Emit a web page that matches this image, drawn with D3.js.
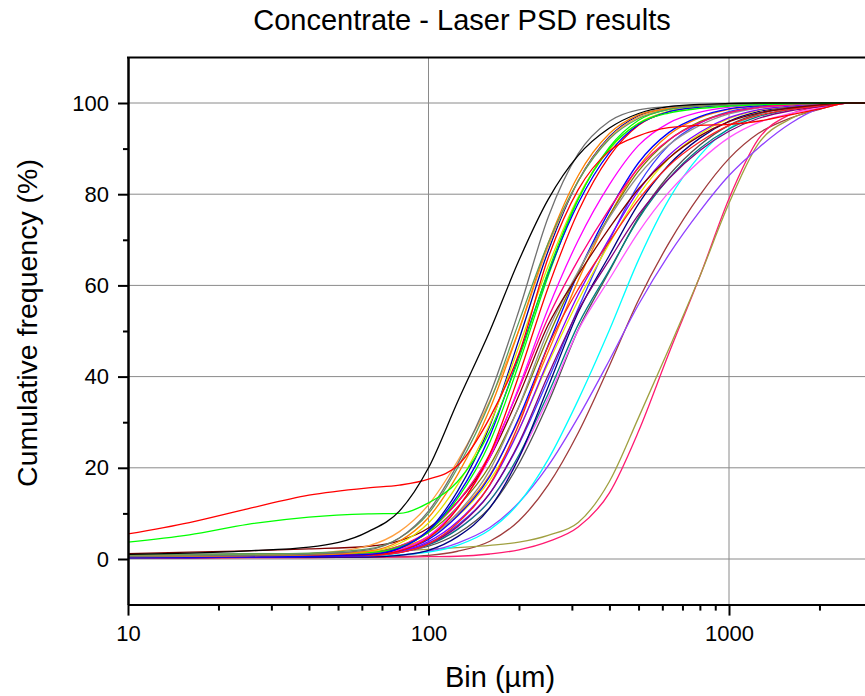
<!DOCTYPE html>
<html>
<head>
<meta charset="utf-8">
<script src="https://cdn.jsdelivr.net/npm/d3@7"></script>
<style>
  html, body { margin: 0; padding: 0; background: #fff; }
  svg { display: block; }
  text { font-family: "Liberation Sans", Arial, sans-serif; fill: #000; }
</style>
</head>
<body>
<svg id="chart" width="865" height="696"></svg>
<script>
// ---------------- DATA ----------------
const title = "Concentrate - Laser PSD results";
const xLabel = "Bin (µm)";
const yLabel = "Cumulative frequency (%)";

// size bins (µm)
const bins = [10, 16, 25, 40, 63, 80, 100, 125, 160, 200, 250, 315, 400, 500, 630, 800, 1000, 1250, 1600, 2000, 2500, 3150];

const xMajorTicks = [10, 100, 1000];
const xMinorTicks = [20, 30, 40, 50, 60, 70, 80, 90, 200, 300, 400, 500, 600, 700, 800, 900, 2000, 3000];
const yMajorTicks = [0, 20, 40, 60, 80, 100];
const yMinorTicks = [10, 30, 50, 70, 90];

// cumulative passing (%) per sample
const sBlack      = [1.0,1.3,1.8,2.6,6.0,10.5,20.0,34.5,50.0,65.5,78.8,88.5,94.5,97.7,99.2,99.7,99.9,100,100,100,100,100];
const sRedFoot    = [5.5,8.0,11.0,14.0,15.6,16.2,17.5,20.5,31.0,45.0,66.0,81.0,89.5,92.8,94.6,95.1,95.3,96.0,97.4,98.7,100,100];
const sGreenFoot  = [3.7,5.3,7.6,9.2,9.9,10.0,12.3,17.0,28.0,44.0,63.0,79.0,90.0,95.5,97.8,98.8,99.3,99.6,99.8,99.9,100,100];
const sGray1      = [0.6,0.7,0.8,1.0,2.0,4.6,10.5,20.8,36.0,54.5,74.9,88.9,96.0,98.5,99.2,99.6,99.8,99.9,100,100,100,100];
const sDkGreen    = [0.9,1.0,1.1,1.3,2.2,4.6,10.0,20.0,34.4,52.0,69.2,82.9,92.1,96.6,98.6,99.3,99.6,99.8,99.9,100,100,100];
const sOrange1    = [0.5,0.6,0.7,0.9,1.7,3.9,9.1,18.5,32.9,50.2,69.2,84.1,93.3,97.4,98.8,99.4,99.7,99.9,100,100,100,100];
const sRoyal      = [0.3,0.4,0.5,0.6,0.9,2.3,6.3,14.9,29.2,48.1,67.5,82.9,92.6,97.2,98.8,99.4,99.7,99.9,100,100,100,100];
const sYellow1    = [0.7,0.8,0.9,1.0,1.6,3.4,7.9,16.3,29.6,46.6,64.2,79.4,89.8,95.6,98.2,99.2,99.6,99.8,99.9,100,100,100];
const sBlue1      = [0.4,0.4,0.5,0.6,1.0,2.4,6.2,13.9,27.0,44.6,62.6,78.0,89.1,95.3,98.1,99.1,99.6,99.8,99.9,100,100,100];
const sLtOrange   = [0.5,0.6,0.8,1.2,2.9,6.0,11.9,21.5,34.7,50.2,68.5,82.9,92.4,96.9,98.7,99.4,99.7,99.9,100,100,100,100];
const sGreen1     = [0.8,0.9,1.0,1.1,1.4,2.6,6.0,13.3,25.6,42.8,62.0,78.9,90.3,96.2,98.6,99.3,99.6,99.8,99.9,100,100,100];
const sRed1       = [0.6,0.6,0.7,0.8,0.9,1.8,4.6,11.1,23.0,40.3,59.5,76.2,88.3,95.1,98.1,99.1,99.6,99.8,99.9,100,100,100];
const sMagenta1   = [0.4,0.4,0.5,0.6,0.9,2.0,5.0,11.3,22.3,37.7,54.9,69.9,82.1,90.7,95.6,98.0,99.1,99.6,99.9,100,100,100];
const sPink1      = [0.5,0.5,0.6,0.8,1.3,2.8,6.2,12.5,23.0,37.3,52.9,65.6,76.8,85.8,91.9,95.7,97.9,99.0,99.6,99.9,100,100];
const sWine       = [1.2,1.5,1.8,2.2,2.8,4.0,6.8,12.5,22.3,35.9,51.3,62.3,72.6,81.2,87.9,92.8,95.9,97.8,98.9,99.6,100,100];
const sGray2      = [0.6,0.6,0.7,0.8,1.0,2.0,4.6,10.1,19.5,33.5,50.1,63.1,74.9,84.1,90.8,95.1,97.6,98.9,99.6,99.9,100,100];
const sOlive1     = [0.8,0.9,1.0,1.1,1.5,2.8,5.8,11.4,20.5,33.4,48.7,62.8,75.3,85.1,91.8,95.9,97.9,99.0,99.6,99.9,100,100];
const sRed2       = [0.5,0.5,0.6,0.7,0.8,1.4,3.3,7.9,16.3,29.6,46.6,59.2,69.6,78.8,86.2,91.5,95.1,97.3,98.6,99.4,100,100];
const sBlue2      = [0.3,0.3,0.4,0.5,0.8,1.8,4.3,9.5,18.1,31.0,46.8,62.7,76.4,86.9,93.5,97.0,98.7,99.4,99.8,99.9,100,100];
const sOrange2    = [0.7,0.8,0.9,1.0,1.3,2.4,5.0,9.9,18.4,30.6,45.4,61.1,75.3,86.0,93.0,96.8,98.6,99.4,99.8,99.9,100,100];
const sViolet1    = [0.4,0.4,0.5,0.6,0.8,1.6,3.8,8.2,16.2,28.3,43.4,58.0,70.3,80.8,88.5,93.6,96.8,98.5,99.3,99.8,100,100];
const sYellow2    = [0.6,0.6,0.7,0.9,1.2,2.3,4.8,9.4,17.3,28.5,42.8,56.7,69.2,79.8,87.8,93.2,96.6,98.4,99.3,99.8,100,100];
const sPurple     = [0.5,0.5,0.6,0.7,0.8,1.4,3.3,7.1,14.4,25.5,40.3,54.5,65.6,75.5,83.4,89.6,93.8,96.6,98.3,99.2,100,100];
const sNavy       = [0.3,0.3,0.4,0.4,0.4,0.8,1.9,4.9,11.2,22.2,37.7,54.1,66.6,77.9,86.4,92.3,96.0,98.1,99.2,99.7,100,100];
const sBlue3      = [0.5,0.5,0.6,0.7,0.9,1.6,3.5,7.4,14.4,25.2,39.3,55.0,69.9,82.1,90.7,95.6,98.1,99.2,99.7,99.9,100,100];
const sDkCyan     = [0.6,0.6,0.7,0.8,0.9,1.5,3.1,6.5,12.8,22.8,36.2,51.4,63.4,74.6,83.4,90.0,94.3,97.0,98.6,99.5,100,100];
const sLtMagenta  = [0.4,0.4,0.5,0.6,0.8,1.4,3.1,6.6,12.8,22.3,35.2,50.2,61.4,71.7,80.4,87.3,92.4,95.7,97.7,98.9,100,100];
const sDkGray     = [0.9,1.0,1.1,1.2,1.3,1.6,2.8,5.6,11.3,20.9,34.2,50.3,63.1,74.9,84.1,90.8,95.1,97.6,98.9,99.6,100,100];
const sCyan       = [0.3,0.4,0.5,0.6,0.8,0.9,1.5,3.0,6.4,12.3,21.8,34.9,50.2,65.6,78.8,88.5,94.4,97.5,99.0,99.6,100,100];
const sViolet2    = [0.3,0.3,0.4,0.5,0.6,0.8,1.7,3.5,6.9,12.4,20.4,31.1,43.6,55.8,66.7,76.3,84.1,90.1,95.5,98.8,100,100];
const sBrown      = [0.2,0.2,0.3,0.3,0.4,0.5,0.8,1.7,3.9,8.4,16.2,27.7,42.4,56.8,69.2,79.8,87.8,93.3,96.7,98.6,100,100];
const sOlive2     = [0.8,0.9,1.0,1.2,1.5,1.8,2.1,2.5,3.0,3.7,5.2,8.0,17.0,31.0,46.0,62.0,78.0,91.0,96.5,98.8,100,100];
const sPink2      = [0.2,0.2,0.3,0.3,0.4,0.4,0.5,0.6,1.1,2.0,3.8,7.0,14.5,28.0,45.0,62.0,79.0,92.0,97.5,99.2,100,100];

const seriesValues = [sBrown, sPink2, sOlive2, sViolet2, sCyan, sDkGray, sLtMagenta, sDkCyan, sBlue3, sNavy,
  sPurple, sYellow2, sViolet1, sOrange2, sBlue2, sRed2, sOlive1, sGray2, sWine, sPink1, sMagenta1,
  sRoyal, sLtOrange, sRed1, sGreen1, sYellow1, sBlue1, sOrange1, sDkGreen, sGray1,
  sGreenFoot, sRedFoot, sBlack];
const seriesColors = ["#a03c3c", "#ff1a70", "#a0a040", "#9040ff", "#00ffff", "#505050", "#ff55ff", "#008080", "#3a3aff", "#000080",
  "#800080", "#e8e800", "#8000ff", "#ff8000", "#0000ff", "#ff2020", "#808000", "#909090", "#800000", "#ff0080", "#ff00ff",
  "#0000a0", "#ffa040", "#ff0000", "#00ff00", "#e0e000", "#0000ff", "#ff8000", "#5c9c5c", "#707070",
  "#00ff00", "#ff0000", "#000000"];

// ---------------- CHART ----------------
(function () {
  const svg = d3.select("#chart");
  const pLeft = 128, pTop = 57.4, pBottom = 604.6;
  const decade = 300.5;
  const x = d3.scaleLog().domain([10, 3500]).range([pLeft, pLeft + decade * Math.log10(350)]);
  const y = d3.scaleLinear().domain([-10, 110]).range([pBottom, pTop]);
  const pRight = x.range()[1];

  svg.append("rect").attr("width", 865).attr("height", 696).attr("fill", "#fff");

  // grid
  const grid = svg.append("g").attr("stroke", "#8a8a8a").attr("stroke-width", 1);
  grid.selectAll("line.h").data(yMajorTicks).join("line").attr("class", "h")
    .attr("x1", pLeft).attr("x2", pRight).attr("y1", d => y(d)).attr("y2", d => y(d));
  grid.selectAll("line.v").data([100, 1000]).join("line").attr("class", "v")
    .attr("y1", pTop).attr("y2", pBottom).attr("x1", d => x(d)).attr("x2", d => x(d));

  // clip
  svg.append("clipPath").attr("id", "clip").append("rect")
    .attr("x", pLeft).attr("y", pTop).attr("width", pRight - pLeft).attr("height", pBottom - pTop);

  const line = d3.line()
    .x((d, i) => x(bins[i]))
    .y(d => y(d))
    .curve(d3.curveMonotoneX);

  svg.append("g").attr("clip-path", "url(#clip)")
    .selectAll("path").data(seriesValues).join("path")
    .attr("fill", "none")
    .attr("stroke", (d, i) => seriesColors[i])
    .attr("stroke-width", 1.3)
    .attr("d", line);

  // axes
  const fontSize = 22;
  svg.append("g").attr("transform", `translate(${pLeft},0)`)
    .call(d3.axisLeft(y).tickValues(yMajorTicks).tickSize(10).tickSizeOuter(0).tickPadding(9));
  svg.append("g").attr("transform", `translate(${pLeft},0)`)
    .call(d3.axisLeft(y).tickValues(yMinorTicks).tickSize(5).tickSizeOuter(0).tickFormat(""));
  svg.append("g").attr("transform", `translate(0,${pBottom})`)
    .call(d3.axisBottom(x).tickValues(xMajorTicks).tickSize(11).tickSizeOuter(0).tickPadding(10).tickFormat(d3.format("d")));
  svg.append("g").attr("transform", `translate(0,${pBottom})`)
    .call(d3.axisBottom(x).tickValues(xMinorTicks).tickSize(6).tickSizeOuter(0).tickFormat(""));

  svg.selectAll(".domain").attr("stroke", "#000").attr("stroke-width", 2);
  svg.selectAll(".tick line").attr("stroke", "#000").attr("stroke-width", 2);
  svg.selectAll(".tick text").attr("font-size", fontSize).attr("font-family", "Liberation Sans, Arial, sans-serif").attr("fill", "#000");

  // top frame
  svg.append("line").attr("x1", pLeft - 1).attr("x2", pRight).attr("y1", pTop).attr("y2", pTop)
    .attr("stroke", "#000").attr("stroke-width", 2);

  // titles
  svg.append("text").attr("x", 462).attr("y", 30).attr("text-anchor", "middle")
    .attr("font-size", 29).text(title);
  svg.append("text").attr("x", 500).attr("y", 687).attr("text-anchor", "middle")
    .attr("font-size", 29).text(xLabel);
  svg.append("text").attr("transform", `translate(37,323) rotate(-90)`).attr("text-anchor", "middle")
    .attr("font-size", 28.5).text(yLabel);
})();
</script>
</body>
</html>
